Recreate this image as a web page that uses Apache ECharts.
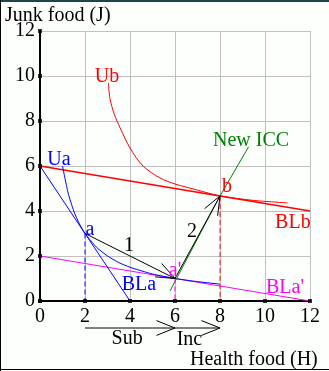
<!DOCTYPE html>
<html><head><meta charset="utf-8">
<script src="https://cdn.jsdelivr.net/npm/echarts@6/dist/echarts.min.js"></script>
<style>html,body{margin:0;padding:0;background:#fdfffd}#c{width:329px;height:371px}</style>
</head><body><div id="c"></div>
<script>
// ---- data ----
const xTicks = [0, 2, 4, 6, 8, 10, 12];
const yTicks = [0, 2, 4, 6, 8, 10, 12];
const blaLine = [[0, 6], [4, 0]];
const blbLine = [[0, 6], [12, 4]];
const blaPrimeLine = [[0, 2], [12, 0]];
const uaCurve = [[1, 6], [1.25, 4.8], [1.5, 4], [1.75, 3.43], [2, 3], [2.5, 2.4], [3, 2], [3.5, 1.71], [4, 1.5], [5, 1.2], [6, 1], [7, 0.86], [8, 0.75]];
const ubCurve = [[3.04, 9.7], [3.11, 9.0], [3.3, 8.3], [3.56, 7.7], [4.0, 6.8], [4.58, 6.0], [5.33, 5.47], [6.0, 5.2], [7.0, 4.93], [8, 4.67], [9.5, 4.47], [11, 4.36]];
const iccLine = [[5.78, 0.45], [8, 4.67], [9.27, 6.85]];
const dropA = [[2, 3], [2, 0]];
const dropAp = [[6, 1], [6, 0]];
const dropB = [[8, 4.67], [8, 0]];
const arrowFrom = [[2, 3], [6, 1], [2, -1.2], [6, -1.2]];
const arrowTo = [[6, 1], [8, 4.67], [6, -1.2], [8, -1.2]];
const labelTexts = ['Ub', 'Ua', 'a', '1', 'BLa', "a'", '2', 'b', 'New ICC', 'BLb', "BLa'", 'Sub', 'Inc'];
const labelAnchors = [[2.98, 9.96], [0.84, 6.27], [2.22, 3.16], [3.96, 2.44], [4.4, 0.71], [6.0, 1.33], [6.76, 3.07], [8.31, 5.07], [9.38, 7.11], [11.24, 3.47], [10.89, 0.58], [3.87, -1.69], [6.64, -1.73]];
const labelColors = ['#ff0000', '#0000ff', '#0000ff', '#000000', '#0000ff', '#ff00ff', '#000000', '#ff0000', '#008000', '#ff0000', '#ff00ff', '#000000', '#000000'];

const FONT = 'Liberation Serif, DejaVu Serif, serif';
const chart = echarts.init(document.getElementById('c'), null, {renderer: 'canvas'});

function lineSeries(data, color, extra) {
  return Object.assign({
    type: 'line', data: data, symbol: 'none', smooth: false, animation: false,
    lineStyle: {color: color, width: 1}, z: 3
  }, extra || {});
}

chart.setOption({
  animation: false,
  backgroundColor: '#fdfffd',
  grid: {left: 40, top: 31, width: 270, height: 270},
  xAxis: {
    type: 'value', min: 0, max: 12, interval: 2,
    axisLine: {show: true, onZero: false, lineStyle: {color: '#000', width: 2}},
    axisTick: {show: false},
    splitLine: {show: true, lineStyle: {color: '#c0c0c0', width: 1}},
    axisLabel: {color: '#000', fontFamily: FONT, fontSize: 20, margin: 6, showMinLabel: true, showMaxLabel: true}
  },
  yAxis: {
    type: 'value', min: 0, max: 12, interval: 2,
    axisLine: {show: true, onZero: false, lineStyle: {color: '#000', width: 2}},
    axisTick: {show: false},
    splitLine: {show: true, lineStyle: {color: '#c0c0c0', width: 1}},
    axisLabel: {color: '#000', fontFamily: FONT, fontSize: 20, margin: 5, showMinLabel: true, showMaxLabel: true}
  },
  graphic: [
    {type: 'rect', shape: {x: 0, y: 0, width: 329, height: 2}, style: {fill: '#1e4646'}, z: 100},
    {type: 'rect', shape: {x: 0, y: 0, width: 1, height: 371}, style: {fill: '#000'}, z: 100},
    {type: 'rect', shape: {x: 0, y: 369, width: 329, height: 1}, style: {fill: '#000'}, z: 100},
    {type: 'text', left: 5, top: 6, style: {text: 'Junk food (J)', font: '20px ' + FONT, fill: '#000'}},
    {type: 'text', left: 190, top: 350, style: {text: 'Health food (H)', font: '20px ' + FONT, fill: '#000'}}
  ],
  series: [
    lineSeries(blbLine, '#ff0000', {lineStyle: {color: '#ff0000', width: 1.3}}),
    lineSeries(ubCurve, '#ff0000', {smooth: 0.3}),
    lineSeries(blaPrimeLine, '#ff00ff'),
    lineSeries(blaLine, '#0000ff'),
    lineSeries(uaCurve, '#0000ff', {smooth: 0.2}),
    lineSeries(iccLine, '#008000'),
    lineSeries(dropA, '#0000ff', {lineStyle: {color: '#0000ff', width: 1, type: [5, 3]}}),
    lineSeries(dropAp, '#ff00ff', {lineStyle: {color: '#ff00ff', width: 1, type: [5, 3]}}),
    lineSeries(dropB, '#ff0000', {lineStyle: {color: '#ff0000', width: 1, type: [5, 3]}}),
    {
      type: 'scatter', symbol: 'rect', symbolSize: 4, itemStyle: {color: '#000'}, z: 5,
      data: xTicks.map(v => [v, 0]).concat(yTicks.map(v => [0, v])), silent: true
    },
    {
      type: 'custom', z: 6, clip: false,
      data: arrowFrom.map((p, i) => [p[0], p[1], i]),
      renderItem: function (params, api) {
        const i = params.dataIndex;
        const p0 = api.coord(arrowFrom[i]);
        const p1 = api.coord(arrowTo[i]);
        const ang = Math.atan2(p1[1] - p0[1], p1[0] - p0[0]);
        const L = 20, h = 0.38;
        const h1 = [p1[0] - L * Math.cos(ang - h), p1[1] - L * Math.sin(ang - h)];
        const h2 = [p1[0] - L * Math.cos(ang + h), p1[1] - L * Math.sin(ang + h)];
        return {type: 'group', children: [
          {type: 'line', shape: {x1: p0[0], y1: p0[1], x2: p1[0], y2: p1[1]}, style: {stroke: '#000', lineWidth: 1}},
          {type: 'polyline', shape: {points: [h1, p1, h2]}, style: {stroke: '#000', fill: null, lineWidth: 1}}
        ]};
      }
    },
    {
      type: 'custom', z: 7, clip: false,
      data: labelAnchors.map((p, i) => [p[0], p[1], i]),
      renderItem: function (params, api) {
        const i = params.dataIndex;
        const p = api.coord(labelAnchors[i]);
        return {type: 'text', x: p[0], y: p[1], style: {
          text: labelTexts[i], fill: labelColors[i], font: '20px ' + FONT, align: 'center', verticalAlign: 'middle'
        }};
      }
    }
  ]
});
</script>
</body></html>
